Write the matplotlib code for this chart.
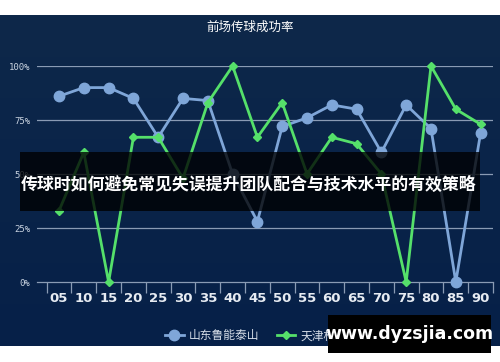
import matplotlib
matplotlib.use("Agg")
import matplotlib.pyplot as plt
import numpy as np
from matplotlib.patches import Rectangle

plt.rcParams['font.family'] = ['Noto Sans CJK SC', 'DejaVu Sans']

categories = ["05", "10", "15", "20", "25", "30", "35", "40", "45",
              "50", "55", "60", "65", "70", "75", "80", "85", "90"]
shandong = [86, 90, 90, 85, 67, 85, 84, 50, 28, 72, 76, 82, 80, 60, 82, 71, 0, 69]
tianjin = [33, 60, 0, 67, 67, 48, 83, 100, 67, 83, 50, 67, 64, 50, 0, 100, 80, 73]
yticks = [0, 25, 50, 75, 100]
ylabels = ["0%", "25%", "50%", "75%", "100%"]
title = "前场传球成功率"
series_names = ["山东鲁能泰山", "天津权健"]
banner = "传球时如何避免常见失误提升团队配合与技术水平的有效策略"
watermark = "www.dyzsjia.com"

W, H = 500, 362
fig = plt.figure(figsize=(W / 100, H / 100), dpi=100)
fig.patch.set_facecolor("white")

def fx(px):
    return px / W

def fy(py):
    return 1 - py / H

# background gradient (dark navy)
bg = fig.add_axes([0, fy(346), 1, fy(15) - fy(346)])
bg.set_axis_off()
grad = np.linspace(0, 1, 256).reshape(-1, 1)
top = np.array([14, 40, 74]) / 255
bot = np.array([6, 32, 72]) / 255
img = top[None, None, :] * (1 - grad[:, :, None]) + bot[None, None, :] * grad[:, :, None]
bg.imshow(img, aspect="auto", extent=[0, 1, 0, 1])
bg.set_xlim(0, 1)
bg.set_ylim(0, 1)

ax = fig.add_axes([fx(37), fy(282), fx(493) - fx(37), fy(66) - fy(282)])
ax.set_facecolor("none")
x = np.arange(len(categories))

blue = "#7fa6d8"
green = "#55e06a"
ax.plot(x, shandong, color=blue, lw=2, marker="o", ms=7.5, clip_on=False, zorder=3,
        label=series_names[0])
ax.plot(x, tianjin, color=green, lw=2, marker="D", ms=4.5, clip_on=False, zorder=4,
        label=series_names[1])

ax.set_xlim(-0.887, 17.5)
ax.set_ylim(0, 100)
ax.set_yticks(yticks)
ax.set_yticklabels(ylabels, family="DejaVu Sans Mono", fontsize=6.5, color="#c9d3e0")
ax.tick_params(axis="y", length=0, pad=5)
for v in yticks[1:]:
    ax.axhline(v, color="#8a9bb4", lw=0.9, zorder=1)

ax.set_xticks(x)
ax.set_xticklabels(categories, fontsize=9.5, color="#e6ebf2", fontweight="bold",
                   family="DejaVu Sans")
ax.tick_params(axis="x", length=0, pad=7)
ax.set_xticks(np.arange(-0.5, 18, 1), minor=True)
ax.tick_params(axis="x", which="minor", length=8, color="#8a9bb4", width=0.9)
for s in ["top", "right", "left"]:
    ax.spines[s].set_visible(False)
ax.spines["bottom"].set_color("#8a9bb4")
ax.spines["bottom"].set_linewidth(0.9)

fig.text(0.5, fy(27), title, ha="center", va="center", color="white", fontsize=9)

leg = fig.legend(loc="center", bbox_to_anchor=(fx(256), fy(336)), ncol=2, frameon=False,
                 fontsize=8.5, labelcolor="#d5dde8", handlelength=1.6, columnspacing=1.5,
                 handletextpad=0.4)

# banner overlay
fig.patches.append(Rectangle((fx(20), fy(211)), fx(480) - fx(20), fy(152) - fy(211),
                             transform=fig.transFigure, facecolor="black", alpha=0.78,
                             zorder=10))
fig.text(fx(249), fy(185), banner, ha="center", va="center", color="white",
         fontsize=12.2, fontweight="bold", zorder=11)

# watermark box
fig.patches.append(Rectangle((fx(328), fy(353)), fx(491) - fx(328), fy(315) - fy(353),
                             transform=fig.transFigure, facecolor="black", zorder=10))
fig.text(fx(409), fy(334), watermark, ha="center", va="center", color="white",
         fontsize=12.5, fontweight="bold", family="DejaVu Sans", zorder=11)

fig.savefig("out.png", dpi=100, facecolor=fig.get_facecolor())
